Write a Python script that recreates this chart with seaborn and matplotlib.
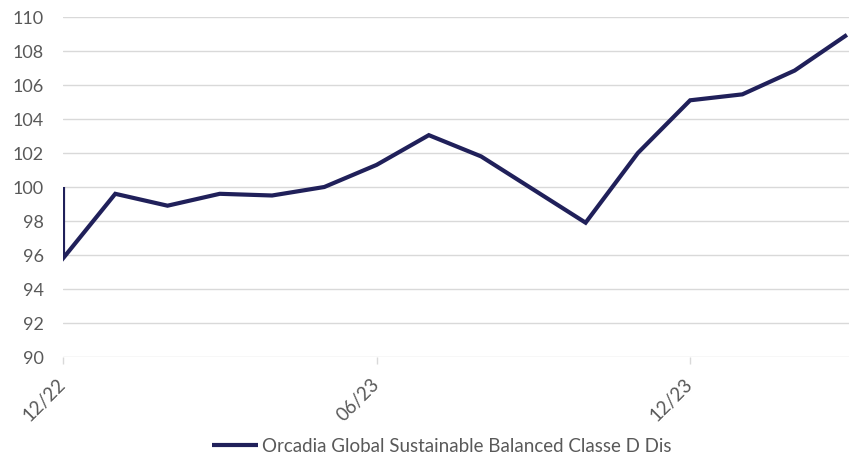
import matplotlib.pyplot as plt
import numpy as np
import pandas as pd
import seaborn as sns

# monthly index (0 = 12/22), first point is the rebased start at 100
months = [0, 0, 1, 2, 3, 4, 5, 6, 7, 8, 9, 10, 11, 12, 13, 14, 15]
values = [100.0, 95.8, 99.6, 98.9, 99.6, 99.5, 100.0, 101.3, 103.05,
          101.8, 99.85, 97.9, 102.0, 105.1, 105.45, 106.85, 108.95]
tick_pos = [0, 6, 12]
tick_labels = ['12/22', '06/23', '12/23']
series_name = 'Orcadia Global Sustainable Balanced Classe D Dis'

df = pd.DataFrame({'month': months, 'value': values, 'series': series_name})

sns.set_theme(style='white')
plt.rcParams['font.family'] = ['Lato', 'DejaVu Sans']

navy = '#20205a'
grey_txt = '#595959'
grid_col = '#d9d9d9'

fig = plt.figure(figsize=(8.49, 4.58), dpi=100)
ax = fig.add_axes([63 / 849, 101 / 458, 786 / 849, 340 / 458])

sns.lineplot(data=df, x='month', y='value', hue='series', palette=[navy],
             estimator=None, sort=False, linewidth=3.0, ax=ax)
for ln in ax.lines:
    ln.set_solid_joinstyle('miter')
    ln.set_solid_capstyle('butt')

ax.set_xlim(0, 15.04)
ax.set_ylim(90, 110)
ax.set_yticks(np.arange(90, 111, 2))
ax.yaxis.grid(True, color=grid_col, linewidth=1.0)
ax.set_axisbelow(True)
for s in ['top', 'right', 'left', 'bottom']:
    ax.spines[s].set_visible(False)

ax.set_xticks(tick_pos)
ax.set_xticklabels(tick_labels, rotation=45, ha='right', va='center',
                   rotation_mode='anchor')
ax.tick_params(axis='x', length=5, width=1, color=grid_col, colors=grey_txt,
               labelsize=13.5, pad=13, bottom=True)
ax.tick_params(axis='x', color=grid_col)
ax.tick_params(axis='y', length=0, colors=grey_txt, labelsize=13, pad=14)
ax.set_xlabel('')
ax.set_ylabel('')

ax.legend_.remove()
handles, labels = ax.get_legend_handles_labels()
fig.legend(handles, labels, loc='center', bbox_to_anchor=(442 / 849, 12 / 458),
           frameon=False, fontsize=13.5, handlelength=2.45, handletextpad=0.2,
           labelcolor=grey_txt, borderaxespad=0, borderpad=0)

fig.savefig('out.png', dpi=100)
